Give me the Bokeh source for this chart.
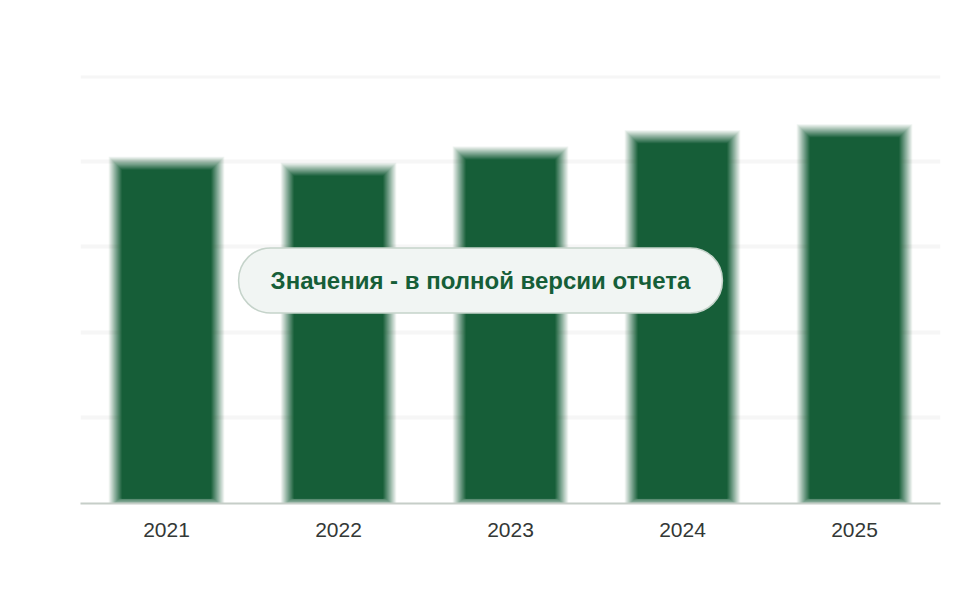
from bokeh.plotting import figure
from bokeh.models import Label, FactorRange, FixedTicker
from bokeh.embed import file_html
from bokeh.resources import INLINE

years = ["2021", "2022", "2023", "2024", "2025"]
values = [3.97, 3.90, 4.09, 4.28, 4.35]
grid_ticks = [0, 1, 2, 3, 4, 4.99]
note = "Значения - в полной версии отчета"

BAR_W = 0.59
PX_X = 172.0   # px per category
PX_Y = 85.6    # px per y unit
GREEN = "#165E38"

p = figure(width=944, height=584, x_range=FactorRange(*years), y_range=(0, 5),
           output_backend="svg", toolbar_location=None,
           min_border_left=80, min_border_right=4, min_border_top=75, min_border_bottom=81)
p.outline_line_color = None
p.background_fill_color = "white"
p.border_fill_color = "white"

# faint blurred grid
p.ygrid.ticker = FixedTicker(ticks=grid_ticks)
p.ygrid.grid_line_color = "#f6f6f6"
p.ygrid.grid_line_width = 4
p.xgrid.grid_line_color = None

p.yaxis.visible = False
p.xaxis.axis_line_color = "#c6cec8"
p.xaxis.axis_line_width = 2
p.xaxis.major_tick_line_color = None
p.xaxis.minor_tick_line_color = None
p.xaxis.major_label_text_font = "Liberation Sans"
p.xaxis.major_label_text_font_size = "21px"
p.xaxis.major_label_text_color = "#333836"
p.xaxis.major_label_standoff = 13

# blurred bars: layered translucent bars giving a linear alpha ramp
base_bottom = 0.02
offsets = list(range(7, -7, -1))  # outer -> inner
n = len(offsets)
for k, d in enumerate(offsets, start=1):
    tops = [v + d / PX_Y for v in values]
    p.vbar(x=years, top=tops, bottom=base_bottom - max(min(d, 2), -3) / PX_Y,
           width=BAR_W + 2 * d / PX_X,
           fill_color=GREEN, fill_alpha=1.0 / (n + 1 - k), line_color=None)

lbl = Label(x=400, y=223, x_units="screen", y_units="screen", text=note,
            text_align="center", text_baseline="middle",
            text_font="Liberation Sans", text_font_style="bold", text_font_size="24px",
            text_color=GREEN,
            background_fill_color="#f1f5f3", background_fill_alpha=1.0,
            border_line_color="#c5d3ca", border_line_width=1.5,
            border_radius=32, padding=(32, 19))
p.add_layout(lbl)

open("out.html", "w").write(file_html(p, INLINE))
